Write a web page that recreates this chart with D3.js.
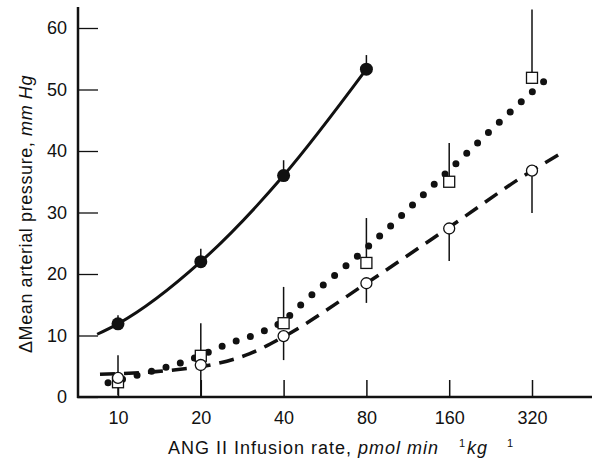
<!DOCTYPE html>
<html>
<head>
<meta charset="utf-8">
<script src="https://cdn.jsdelivr.net/npm/d3@7"></script>
<style>
  body { margin: 0; background: #fff; }
  text { font-family: "Liberation Sans", Arial, sans-serif; fill: #111; }
</style>
</head>
<body>
<div id="chart"></div>
<script>
"use strict";

// === Data ===
const doses = [10, 20, 40, 80, 160, 320];          // pmol/min/kg
const yTicks = [0, 10, 20, 30, 40, 50, 60];

// filled circles (solid line), 4 doses
const filledMean = [11.9, 22.0, 36.0, 53.3];
const filledHigh = [13.3, 24.1, 38.5, 55.6];

// open squares (dotted line)
const squareMean = [2.4, 6.7, 12.0, 21.8, 35.0, 51.9];
const squareHigh = [6.8, 12.0, 17.9, 29.1, 41.3, 63.0];

// open circles (dashed line)
const openMean = [3.1, 5.2, 9.9, 18.5, 27.4, 36.8];
const openLow = [0.3, 0.0, 6.0, 15.3, 22.1, 29.9];

// fitted curves, points [dose, mmHg]
const solidCurve = [[8.4, 10.2], [10, 11.9], [20, 22.0], [40, 36.0], [80, 53.3]];
const dottedCurve = [[9.2, 2.3], [12.6, 3.9], [18.1, 6.0], [25.3, 8.7], [33, 10.5],
  [40, 12.4], [47, 15.3], [80, 24.2], [160, 36.9], [320, 49.6], [366, 51.9]];
const dashedCurve = [[8.6, 3.7], [15.2, 4.3], [22.2, 5.3], [30, 7.0], [40, 9.8],
  [80, 18.5], [160, 27.6], [320, 36.8], [415, 39.8]];

// === SVG setup ===
const svgWidth = 592, svgHeight = 459;
const svg = d3.select("#chart")
  .append("svg")
  .attr("width", svgWidth)
  .attr("height", svgHeight);

// === Scales ===
const x = d3.scaleLog().base(2)
  .domain([10, 320])
  .range([118, 532]);

const y = d3.scaleLinear()
  .domain([0, 60])
  .range([397, 28]);

// === Axes ===
const yAxis = svg.append("g")
  .attr("transform", "translate(78,0)")
  .call(d3.axisLeft(y).tickValues(yTicks).tickSize(-20).tickPadding(11));
yAxis.select(".domain").remove();
yAxis.selectAll(".tick line").attr("stroke", "#111").attr("stroke-width", 1.3);
yAxis.selectAll(".tick text").attr("font-size", "18px").attr("fill", "#111");

const xAxis = svg.append("g")
  .attr("transform", "translate(0,397)")
  .call(d3.axisBottom(x).tickValues(doses).tickFormat(d3.format("d")).tickSize(-17).tickPadding(14));
xAxis.select(".domain").remove();
xAxis.selectAll(".tick line").attr("stroke", "#111").attr("stroke-width", 1.5);
xAxis.selectAll(".tick text").attr("font-size", "18px").attr("fill", "#111");

// axis lines
svg.append("line")
  .attr("x1", 78).attr("x2", 78)
  .attr("y1", 7).attr("y2", 398)
  .attr("stroke", "#111").attr("stroke-width", 2.5);
svg.append("line")
  .attr("x1", 77).attr("x2", 592)
  .attr("y1", 397).attr("y2", 397)
  .attr("stroke", "#111").attr("stroke-width", 2.5);

// === Axis titles ===
const yTitle = svg.append("text")
  .attr("transform", "translate(32,214) rotate(-90)")
  .attr("text-anchor", "middle")
  .attr("font-size", "18px")
  .attr("letter-spacing", "0.6px");
yTitle.append("tspan").text("\u0394Mean arterial pressure, ");
yTitle.append("tspan").attr("font-style", "italic").text("mm Hg");

const xTitle = svg.append("text")
  .attr("x", 168)
  .attr("y", 454)
  .attr("font-size", "18px")
  .attr("letter-spacing", "1px");
xTitle.append("tspan").text("ANG II Infusion rate, ");
xTitle.append("tspan").attr("font-style", "italic").text("pmol min");
xTitle.append("tspan").attr("x", 459).attr("dy", -7).attr("font-size", "11px").text("1");
xTitle.append("tspan").attr("x", 467).attr("dy", 7).attr("font-style", "italic").text("kg");
xTitle.append("tspan").attr("x", 507).attr("dy", -7).attr("font-size", "11px").text("1");

// === Curves ===
const line = d3.line()
  .x(d => x(d[0]))
  .y(d => y(d[1]))
  .curve(d3.curveMonotoneX);

svg.append("path")
  .attr("d", line(solidCurve))
  .attr("fill", "none")
  .attr("stroke", "#111")
  .attr("stroke-width", 3);

svg.append("path")
  .attr("d", line(dottedCurve))
  .attr("fill", "none")
  .attr("stroke", "#111")
  .attr("stroke-width", 7)
  .attr("stroke-linecap", "round")
  .attr("stroke-dasharray", "0 15");

svg.append("path")
  .attr("d", line(dashedCurve))
  .attr("fill", "none")
  .attr("stroke", "#111")
  .attr("stroke-width", 3.5)
  .attr("stroke-dasharray", "15 9");

// === Error bars ===
function errorBars(means, ends) {
  svg.append("g").selectAll("line")
    .data(means)
    .enter()
    .append("line")
    .attr("x1", (d, i) => x(doses[i]))
    .attr("x2", (d, i) => x(doses[i]))
    .attr("y1", d => y(d))
    .attr("y2", (d, i) => y(ends[i]))
    .attr("stroke", "#111")
    .attr("stroke-width", 1.5);
}
errorBars(filledMean, filledHigh);
errorBars(squareMean, squareHigh);
errorBars(openMean, openLow);

// === Markers ===
svg.append("g").selectAll("rect")
  .data(squareMean)
  .enter()
  .append("rect")
  .attr("x", (d, i) => x(doses[i]) - 5.5)
  .attr("y", d => y(d) - 5.5)
  .attr("width", 11)
  .attr("height", 11)
  .attr("fill", "#fff")
  .attr("stroke", "#111")
  .attr("stroke-width", 1.3);

svg.append("g").selectAll("circle")
  .data(openMean)
  .enter()
  .append("circle")
  .attr("cx", (d, i) => x(doses[i]))
  .attr("cy", d => y(d))
  .attr("r", 5.5)
  .attr("fill", "#fff")
  .attr("stroke", "#111")
  .attr("stroke-width", 1.3);

svg.append("g").selectAll("circle")
  .data(filledMean)
  .enter()
  .append("circle")
  .attr("cx", (d, i) => x(doses[i]))
  .attr("cy", d => y(d))
  .attr("r", 6.5)
  .attr("fill", "#111");
</script>
</body>
</html>
